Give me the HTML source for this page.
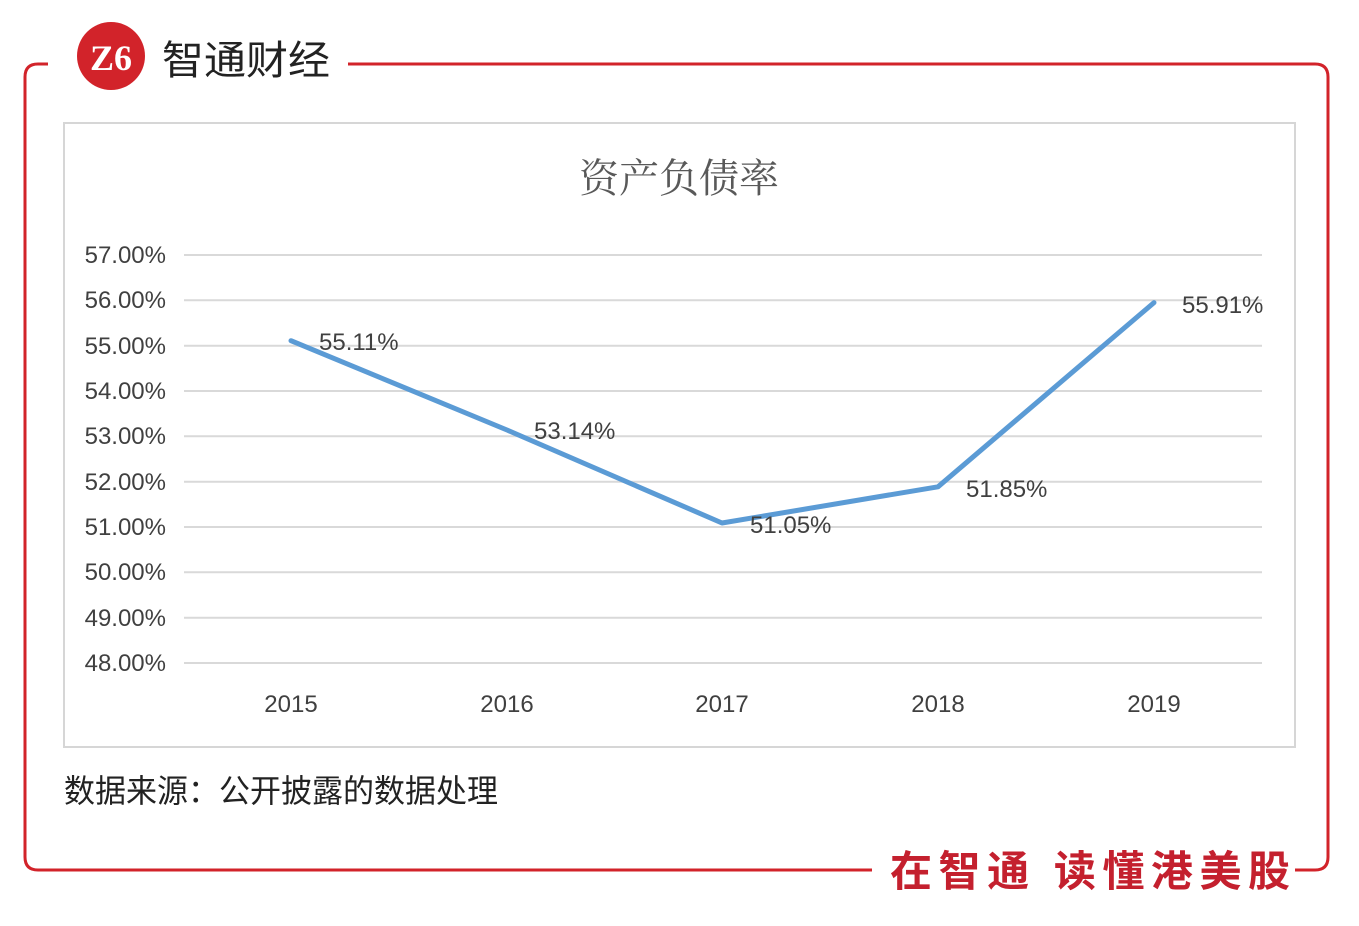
<!DOCTYPE html>
<html><head><meta charset="utf-8"><style>
body{margin:0;background:#fff;width:1359px;height:921px;overflow:hidden}
</style></head><body>
<svg width="1359" height="921" xmlns="http://www.w3.org/2000/svg" font-family="Liberation Sans, Noto Sans CJK SC, sans-serif">
<path d="M48 64 H38 Q25 64 25 77 V857 Q25 870 38 870 H872" fill="none" stroke="#d2232a" stroke-width="3"/>
<path d="M348 64 H1315 Q1328 64 1328 77 V857 Q1328 870 1315 870 H1295" fill="none" stroke="#d2232a" stroke-width="3"/>
<circle cx="111" cy="56" r="34" fill="#d2232a"/>
<text x="111" y="70" font-size="36" font-family="Liberation Serif, serif" font-weight="bold" fill="#fff" text-anchor="middle">Z6</text>
<text x="162" y="74" font-size="40" fill="#222" textLength="168" lengthAdjust="spacingAndGlyphs">智通财经</text>
<text x="890" y="886" font-size="42" font-weight="bold" fill="#c4202e" textLength="400" lengthAdjust="spacing">在智通 读懂港美股</text>
<rect x="64" y="123" width="1231" height="624" fill="#fff" stroke="#d6d6d6" stroke-width="2"/>
<text x="679" y="192" font-size="40" fill="#595959" text-anchor="middle" font-family="Noto Serif CJK SC, serif">资产负债率</text>
<g stroke="#d9d9d9" stroke-width="2">
<line x1="184" x2="1262" y1="255" y2="255"/><line x1="184" x2="1262" y1="300.3" y2="300.3"/><line x1="184" x2="1262" y1="345.7" y2="345.7"/><line x1="184" x2="1262" y1="391" y2="391"/><line x1="184" x2="1262" y1="436.3" y2="436.3"/><line x1="184" x2="1262" y1="481.7" y2="481.7"/><line x1="184" x2="1262" y1="527" y2="527"/><line x1="184" x2="1262" y1="572.3" y2="572.3"/><line x1="184" x2="1262" y1="617.7" y2="617.7"/><line x1="184" x2="1262" y1="663" y2="663"/>
</g>
<g font-size="24" fill="#404040" text-anchor="end">
<text x="166" y="263">57.00%</text><text x="166" y="308">56.00%</text><text x="166" y="354">55.00%</text><text x="166" y="399">54.00%</text><text x="166" y="444">53.00%</text><text x="166" y="490">52.00%</text><text x="166" y="535">51.00%</text><text x="166" y="580">50.00%</text><text x="166" y="626">49.00%</text><text x="166" y="671">48.00%</text>
</g>
<g font-size="24" fill="#404040" text-anchor="middle">
<text x="291" y="712">2015</text><text x="507" y="712">2016</text><text x="722" y="712">2017</text><text x="938" y="712">2018</text><text x="1154" y="712">2019</text>
</g>
<polyline points="291,340.7 507,430 722,523 938,486.8 1154,302.6" fill="none" stroke="#5b9bd5" stroke-width="5" stroke-linejoin="round" stroke-linecap="round"/>
<g font-size="24" fill="#404040">
<text x="319" y="350">55.11%</text><text x="534" y="439">53.14%</text><text x="750" y="533">51.05%</text><text x="966" y="497">51.85%</text><text x="1182" y="313">55.91%</text>
</g>
<text x="64" y="802" font-size="32" fill="#222" textLength="434" lengthAdjust="spacingAndGlyphs">数据来源：公开披露的数据处理</text>
</svg>
</body></html>
